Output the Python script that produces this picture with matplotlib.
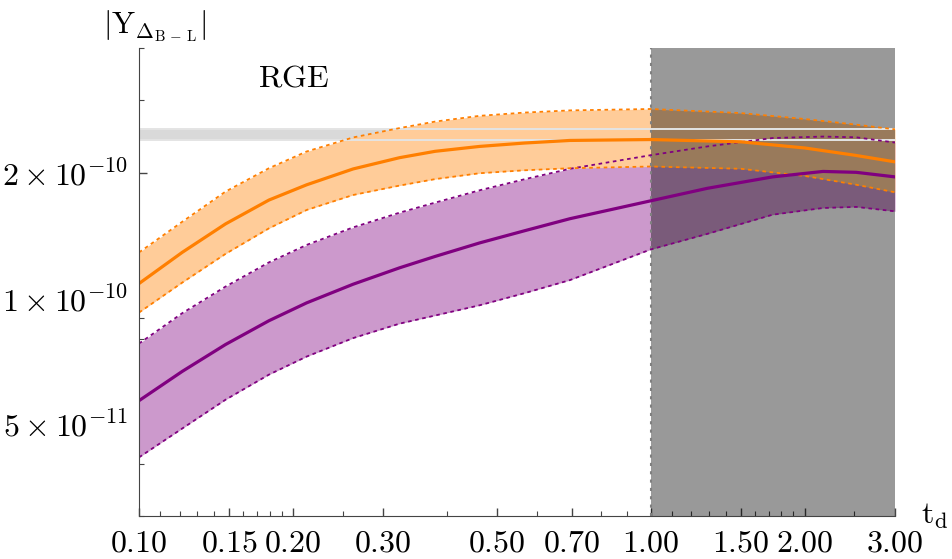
import numpy as np
import matplotlib
matplotlib.use("Agg")
import matplotlib.pyplot as plt
from matplotlib.ticker import FixedLocator, FixedFormatter, NullFormatter

plt.rcParams['mathtext.fontset'] = 'cm'
plt.rcParams['font.family'] = ['DejaVu Serif']

###### dane
t_left = [0.100, 0.1215, 0.1476, 0.1794, 0.2126, 0.262, 0.323, 0.379, 0.463, 0.567, 0.695, 1.0]

t_orange = t_left + [1.5, 2.0, 2.5, 3.0]
orange_mid = [1.086e-10, 1.291e-10, 1.511e-10, 1.724e-10, 1.876e-10, 2.048e-10, 2.18e-10, 2.258e-10, 2.32e-10, 2.364e-10,
              2.398e-10, 2.41e-10, 2.38e-10, 2.30e-10, 2.21e-10, 2.13e-10]
orange_up = [1.290e-10, 1.529e-10, 1.807e-10, 2.056e-10, 2.256e-10, 2.438e-10, 2.568e-10, 2.662e-10, 2.748e-10, 2.798e-10,
             2.832e-10, 2.854e-10, 2.79e-10, 2.70e-10, 2.62e-10, 2.55e-10]
orange_lo = [0.925e-10, 1.092e-10, 1.280e-10, 1.474e-10, 1.632e-10, 1.773e-10, 1.868e-10, 1.936e-10, 2.00e-10, 2.033e-10,
             2.056e-10, 2.076e-10, 2.05e-10, 1.97e-10, 1.88e-10, 1.80e-10]

t_purple = t_left + [1.29, 1.73, 2.17, 2.52, 3.0]
purple_mid = [5.68e-11, 6.68e-11, 7.75e-11, 8.84e-11, 9.76e-11, 1.082e-10, 1.185e-10, 1.262e-10, 1.360e-10, 1.455e-10,
              1.555e-10, 1.717e-10, 1.84e-10, 1.96e-10, 2.02e-10, 2.01e-10, 1.96e-10]
purple_up = [7.79e-11, 9.22e-11, 1.068e-10, 1.221e-10, 1.345e-10, 1.482e-10, 1.608e-10, 1.70e-10, 1.820e-10, 1.935e-10,
             2.050e-10, 2.21e-10, 2.32e-10, 2.43e-10, 2.45e-10, 2.44e-10, 2.37e-10]
purple_lo = [4.15e-11, 4.87e-11, 5.71e-11, 6.56e-11, 7.25e-11, 8.03e-11, 8.70e-11, 9.10e-11, 9.63e-11, 1.03e-10,
             1.107e-10, 1.312e-10, 1.43e-10, 1.59e-10, 1.65e-10, 1.66e-10, 1.62e-10]

# pasmo obserwacyjne i obszar wykluczony
obs_band = [2.40e-10, 2.55e-10]
t_excl = [1.0, 3.0]

xticks = [0.10, 0.15, 0.20, 0.30, 0.50, 0.70, 1.00, 1.50, 2.00, 3.00]
xlabels = ['0.10', '0.15', '0.20', '0.30', '0.50', '0.70', '1.00', '1.50', '2.00', '3.00']
xminor = [0.11, 0.12, 0.13, 0.14, 0.16, 0.17, 0.18, 0.19, 0.25, 0.4, 0.6, 0.8, 0.9,
          1.1, 1.2, 1.3, 1.4, 1.6, 1.7, 1.8, 1.9, 2.5]
yticks = [5e-11, 1e-10, 2e-10]
ylabels = [r'$5\times10^{-11}$', r'$1\times10^{-10}$', r'$2\times10^{-10}$']
yminor = [3e-11, 4e-11, 6e-11, 7e-11, 8e-11, 9e-11, 3e-10, 4e-10]

fig = plt.figure(figsize=(9.52, 5.59), dpi=100)
ax = fig.add_axes([139/952, 1-516/559, 756/952, 468/559])
ax.set_xscale('log')
ax.set_yscale('log')
ax.set_xlim(0.1, 3.0)
ax.set_ylim(3e-11, 4e-10)

###### pasmo szare
ax.fill_between([0.1, 3.0], obs_band[0], obs_band[1], color='#D9D9D9', lw=0, zorder=1)

###### pasma
ax.fill_between(t_purple, purple_lo, purple_up, color='#CC99CC', lw=0, zorder=2)
ax.fill_between(t_orange, orange_lo, orange_up, color='#FFCC99', lw=0, zorder=3)

###### obszar zaciemniony
ax.axvspan(t_excl[0], t_excl[1], color='black', alpha=0.4, lw=0, zorder=4)
ax.axvline(t_excl[0], color='#808080', lw=1.5, ls=(0, (1.5, 2.5)), zorder=5)
for yb in obs_band:
    ax.plot([0.1, 3.0], [yb, yb], color='#E4E4E4', lw=1.4, zorder=5)

###### krawedzie i linie centralne
ax.plot(t_purple, purple_up, color='#800080', lw=1.3, ls=(0, (2, 2)), zorder=6)
ax.plot(t_purple, purple_lo, color='#800080', lw=1.3, ls=(0, (2, 2)), zorder=6)
ax.plot(t_orange, orange_up, color='#FF7F00', lw=1.3, ls=(0, (2, 2)), zorder=6)
ax.plot(t_orange, orange_lo, color='#FF7F00', lw=1.3, ls=(0, (2, 2)), zorder=6)
ax.plot(t_purple, purple_mid, color='#800080', lw=2.3, zorder=7)
ax.plot(t_orange, orange_mid, color='#FF7F00', lw=2.3, zorder=7)

###### osie
for s in ['top', 'right']:
    ax.spines[s].set_visible(False)
for s in ['left', 'bottom']:
    ax.spines[s].set_color('#444444')
    ax.spines[s].set_zorder(10)

ax.xaxis.set_major_locator(FixedLocator(xticks))
ax.xaxis.set_major_formatter(FixedFormatter([r'$%s$' % l for l in xlabels]))
ax.xaxis.set_minor_locator(FixedLocator(xminor))
ax.xaxis.set_minor_formatter(NullFormatter())
ax.yaxis.set_major_locator(FixedLocator(yticks))
ax.yaxis.set_major_formatter(FixedFormatter(ylabels))
ax.yaxis.set_minor_locator(FixedLocator(yminor))
ax.yaxis.set_minor_formatter(NullFormatter())
ax.tick_params(which='major', direction='in', length=6, width=1, color='#444444', labelsize=23, pad=8)
ax.tick_params(which='minor', direction='in', length=3.5, width=0.8, color='#444444')

ax.text(0.204, 0.936, r'$\mathrm{RGE}$', transform=ax.transAxes, fontsize=23, ha='center', va='center')
fig.text(103/952, 1-33/559, r'$|\mathrm{Y}_{\Delta_{\mathrm{B}\,-\,\mathrm{L}}}|$', fontsize=22, ha='left', va='baseline')
fig.text(921/952, 1-524/559, r'$\mathrm{t}_{\mathrm{d}}$', fontsize=23, ha='left', va='baseline')

fig.savefig('out.png', dpi=100)
